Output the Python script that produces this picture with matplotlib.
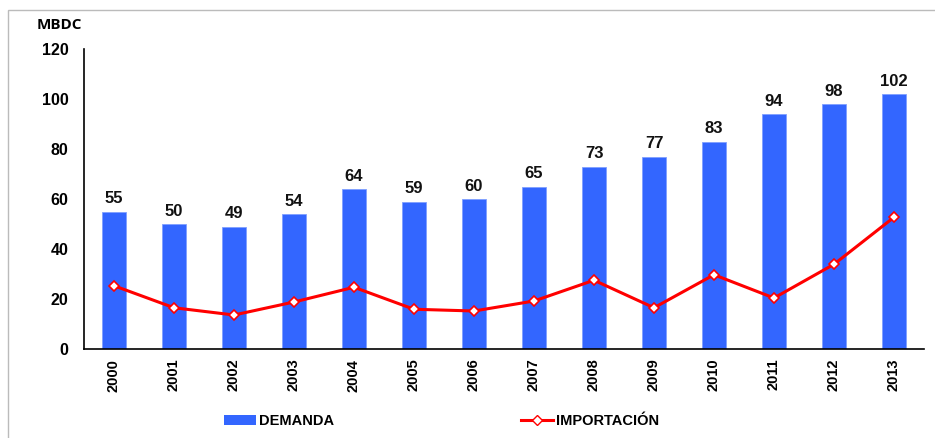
import matplotlib
matplotlib.use("Agg")
import matplotlib.pyplot as plt
from matplotlib.patches import Rectangle
from matplotlib.lines import Line2D
from matplotlib.patches import Patch

years = ["2000", "2001", "2002", "2003", "2004", "2005", "2006",
         "2007", "2008", "2009", "2010", "2011", "2012", "2013"]
demanda = [55, 50, 49, 54, 64, 59, 60, 65, 73, 77, 83, 94, 98, 102]
importacion = [25.3, 16.5, 13.6, 18.8, 24.7, 15.9, 15.2, 19.2, 27.5, 16.5,
               29.7, 20.4, 33.9, 52.7]

plt.rcParams['font.family'] = ['Liberation Sans', 'DejaVu Sans']

W, H = 935, 438
fig = plt.figure(figsize=(W / 100, H / 100), dpi=100)
ax = fig.add_axes([84 / W, 1 - 349 / H, 840 / W, 300 / H])

x = list(range(len(years)))
ax.bar(x, demanda, width=0.4, color="#3366FF", edgecolor="#7F9FFF",
       linewidth=0.6, zorder=2)
ax.plot(x, importacion, color="#FF0000", linewidth=2.2, marker="D",
        markersize=5.5, markerfacecolor="white", markeredgecolor="#FF0000",
        markeredgewidth=1.2, zorder=3)

for xi, v in zip(x, demanda):
    ax.text(xi, v + 2.2, f"{v}", ha="center", va="bottom",
            fontsize=12, fontweight="bold", color="#111111")

ax.set_xlim(-0.5, len(years) - 0.5)
ax.set_ylim(0, 120)
ax.set_yticks([0, 20, 40, 60, 80, 100, 120])
ax.set_xticks(x)
ax.set_xticklabels(years, rotation=90, fontsize=10.5, fontweight="bold")
for lbl in ax.get_yticklabels():
    lbl.set_fontweight("bold")
    lbl.set_fontsize(11.5)
ax.tick_params(axis="both", length=0, pad=7)
ax.tick_params(axis="y", pad=11)
ax.spines["top"].set_visible(False)
ax.spines["right"].set_visible(False)
ax.spines["left"].set_linewidth(1.2)
ax.spines["bottom"].set_linewidth(1.2)

fig.text(37 / W, 1 - 25 / H, "MBDC", fontsize=11, fontweight="bold",
         ha="left", va="center", family=["Open Sans", "DejaVu Sans"])

# Outer frame
fig.patches.append(Rectangle((8 / W, -0.05), 1.2, 1 - 10 / H + 0.05,
                             transform=fig.transFigure, fill=False,
                             edgecolor="#BBBBBB", linewidth=1.0))

handles = [Patch(facecolor="#3366FF", edgecolor="none"),
           Line2D([0], [0], color="#FF0000", linewidth=2.2, marker="D",
                  markersize=5.5, markerfacecolor="white",
                  markeredgecolor="#FF0000")]
fig.legend(handles, ["DEMANDA", "IMPORTACIÓN"], loc="center",
           bbox_to_anchor=(0.5 - 26 / W, 1 - 421 / H), ncol=2, frameon=False,
           prop={"weight": "bold", "size": 10.5}, columnspacing=12.8,
           handlelength=2.2, handletextpad=0.2)

fig.savefig("out.png", dpi=100)
